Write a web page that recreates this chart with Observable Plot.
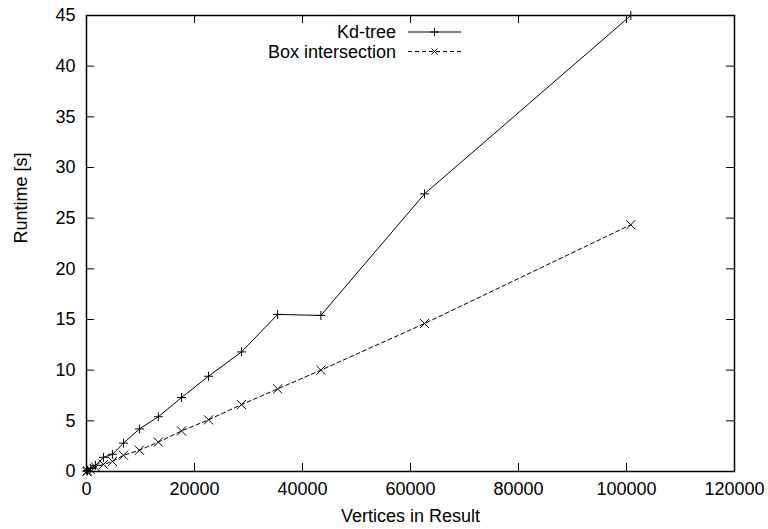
<!DOCTYPE html>
<html><head><meta charset="utf-8">
<script src="https://cdn.jsdelivr.net/npm/d3@7"></script>
<script src="https://cdn.jsdelivr.net/npm/@observablehq/plot@0.6"></script>
<style>
body{margin:0;background:#fff}
#wrap{position:relative;width:768px;height:529px}
#legend{position:absolute;left:0;top:0;pointer-events:none}
</style>
</head><body>
<div id="wrap"></div>
<script>
// Data
const vertices        = [50, 200, 700, 1650, 3150, 4800, 6850, 9800, 13300, 17600, 22600, 28700, 35400, 43400, 62600, 100800];
const kdTree          = [0.02, 0.1, 0.3, 0.6, 1.4, 1.7, 2.8, 4.2, 5.4, 7.3, 9.4, 11.8, 15.5, 15.4, 27.4, 45.0];
const boxIntersection = [0.01, 0.05, 0.2, 0.45, 0.7, 1.0, 1.6, 2.1, 2.9, 4.0, 5.1, 6.6, 8.15, 10.0, 14.6, 24.35];
const seriesNames = ["Kd-tree", "Box intersection"];
const xTicks = [0, 20000, 40000, 60000, 80000, 100000, 120000];
const yTicks = [0, 5, 10, 15, 20, 25, 30, 35, 40, 45];
const xLabel = "Vertices in Result";
const yLabel = "Runtime [s]";

const kdRows  = vertices.map((v, i) => ({series: seriesNames[0], x: v, y: kdTree[i]}));
const boxRows = vertices.map((v, i) => ({series: seriesNames[1], x: v, y: boxIntersection[i]}));

const W = 768, H = 529, mL = 86, mR = 34, mT = 15, mB = 58;
const fw = W - mL - mR, fh = H - mT - mB;
const FONT = "'Liberation Sans', Arial, Helvetica, sans-serif";
const tick = 8;
const black = {stroke: "#000", strokeOpacity: 1, strokeWidth: 1};

const chart = Plot.plot({
  width: W, height: H,
  marginLeft: mL, marginRight: mR, marginTop: mT, marginBottom: mB,
  style: {fontFamily: FONT, fontSize: "18px", background: "#fff", color: "#000"},
  x: {domain: [0, 120000]},
  y: {domain: [0, 45]},
  marks: [
    Plot.gridX(xTicks, {...black, insetTop: fh - tick}),
    Plot.gridX(xTicks, {...black, insetBottom: fh - tick}),
    Plot.gridY(yTicks, {...black, insetRight: fw - tick}),
    Plot.gridY(yTicks, {...black, insetLeft: fw - tick}),
    Plot.axisX(xTicks, {tickSize: 0, tickPadding: 11, label: null, tickFormat: d => String(d), fontSize: 18}),
    Plot.axisY(yTicks, {tickSize: 0, tickPadding: 11, label: null, tickFormat: d => String(d), fontSize: 18}),
    Plot.line(kdRows, {x: "x", y: "y", stroke: "#000", strokeWidth: 1}),
    Plot.line(boxRows, {x: "x", y: "y", stroke: "#000", strokeWidth: 1, strokeDasharray: "4,3"}),
    Plot.dot(kdRows, {x: "x", y: "y", symbol: "plus", r: 3, stroke: "#000", fill: "none", strokeWidth: 1}),
    Plot.dot(boxRows, {x: "x", y: "y", symbol: "times", r: 4.2, stroke: "#000", fill: "none", strokeWidth: 1}),
    Plot.frame({stroke: "#000", strokeWidth: 1.5}),
    Plot.text([xLabel], {text: d => d, frameAnchor: "bottom", dy: 45, lineAnchor: "middle", fontSize: 18, fill: "#000"}),
    Plot.text([yLabel], {text: d => d, frameAnchor: "left", dx: -65, rotate: -90, lineAnchor: "middle", fontSize: 18, fill: "#000"})
  ]
});
const wrap = document.getElementById("wrap");
wrap.appendChild(chart);

// Legend (gnuplot-style, inside plot area)
const ns = "http://www.w3.org/2000/svg";
const leg = document.createElementNS(ns, "svg");
leg.setAttribute("id", "legend");
leg.setAttribute("width", W);
leg.setAttribute("height", 80);
const rowsY = [32, 51.5];
const textRight = 396, lx1 = 408, lx2 = 461, mx = (lx1 + lx2) / 2;
seriesNames.forEach((name, i) => {
  const y = rowsY[i];
  const t = document.createElementNS(ns, "text");
  t.setAttribute("x", textRight); t.setAttribute("y", y);
  t.setAttribute("text-anchor", "end");
  t.setAttribute("dominant-baseline", "central");
  t.setAttribute("font-family", FONT);
  t.setAttribute("font-size", "18");
  t.textContent = name;
  leg.appendChild(t);
  const l = document.createElementNS(ns, "line");
  l.setAttribute("x1", lx1); l.setAttribute("x2", lx2);
  l.setAttribute("y1", y); l.setAttribute("y2", y);
  l.setAttribute("stroke", "#000"); l.setAttribute("stroke-width", 1);
  if (i === 1) l.setAttribute("stroke-dasharray", "4,3");
  leg.appendChild(l);
  const p = document.createElementNS(ns, "path");
  const a = i === 0 ? 4 : 3;
  p.setAttribute("d", i === 0
    ? `M${mx - a},${y}H${mx + a}M${mx},${y - a}V${y + a}`
    : `M${mx - a},${y - a}L${mx + a},${y + a}M${mx - a},${y + a}L${mx + a},${y - a}`);
  p.setAttribute("stroke", "#000"); p.setAttribute("fill", "none");
  leg.appendChild(p);
});
wrap.appendChild(leg);
</script>
</body></html>
